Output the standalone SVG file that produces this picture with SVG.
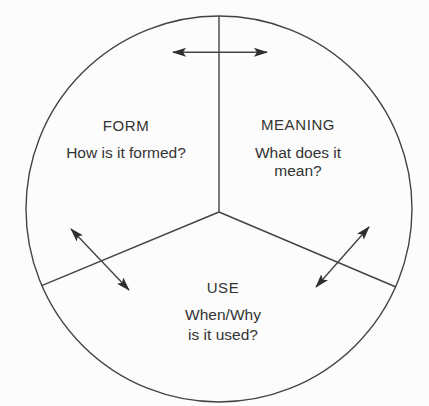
<svg xmlns="http://www.w3.org/2000/svg" width="429" height="406" viewBox="0 0 429 406">
  <defs>
    <marker id="ah" viewBox="0 0 14 9" refX="13" refY="4.5" markerWidth="14" markerHeight="9" markerUnits="userSpaceOnUse" orient="auto-start-reverse">
      <path d="M0,0 L14,4.5 L0,9 L3,4.5 Z" fill="#2e2e2e"/>
    </marker>
  </defs>
  <style>
    .ln { fill: none; stroke: #444; stroke-width: 1.4; }
    .ar { fill: none; stroke: #444; stroke-width: 1.4; marker-start: url(#ah); marker-end: url(#ah); }
    .t { font-family: "Liberation Sans", Arial, sans-serif; font-size: 15.5px; fill: #333; text-anchor: middle; }
    .h { font-size: 15px; letter-spacing: 0.6px; }
  </style>
  <rect width="429" height="406" fill="#fcfcfc"/>
  <g id="frame">
    <circle class="ln" cx="219" cy="209" r="193"/>
  </g>
  <g id="connectors">
    <line class="ln" x1="219" y1="16" x2="219" y2="212"/>
    <line class="ln" x1="219" y1="212" x2="41.7" y2="285.7"/>
    <line class="ln" x1="219" y1="212" x2="396" y2="287"/>
    <line class="ar" x1="173" y1="52.3" x2="267" y2="52.3"/>
    <line class="ar" x1="71" y1="229" x2="129" y2="290"/>
    <line class="ar" x1="369" y1="227" x2="316" y2="287"/>
  </g>
  <g id="form">
    <text class="t h" x="126" y="131">FORM</text>
    <text class="t" x="126" y="158">How is it formed?</text>
  </g>
  <g id="meaning">
    <text class="t h" x="298" y="130">MEANING</text>
    <text class="t" x="298" y="158">What does it</text>
    <text class="t" x="298" y="176">mean?</text>
  </g>
  <g id="use">
    <text class="t h" x="223" y="293">USE</text>
    <text class="t" x="223" y="320">When/Why</text>
    <text class="t" x="223" y="340">is it used?</text>
  </g>
</svg>
